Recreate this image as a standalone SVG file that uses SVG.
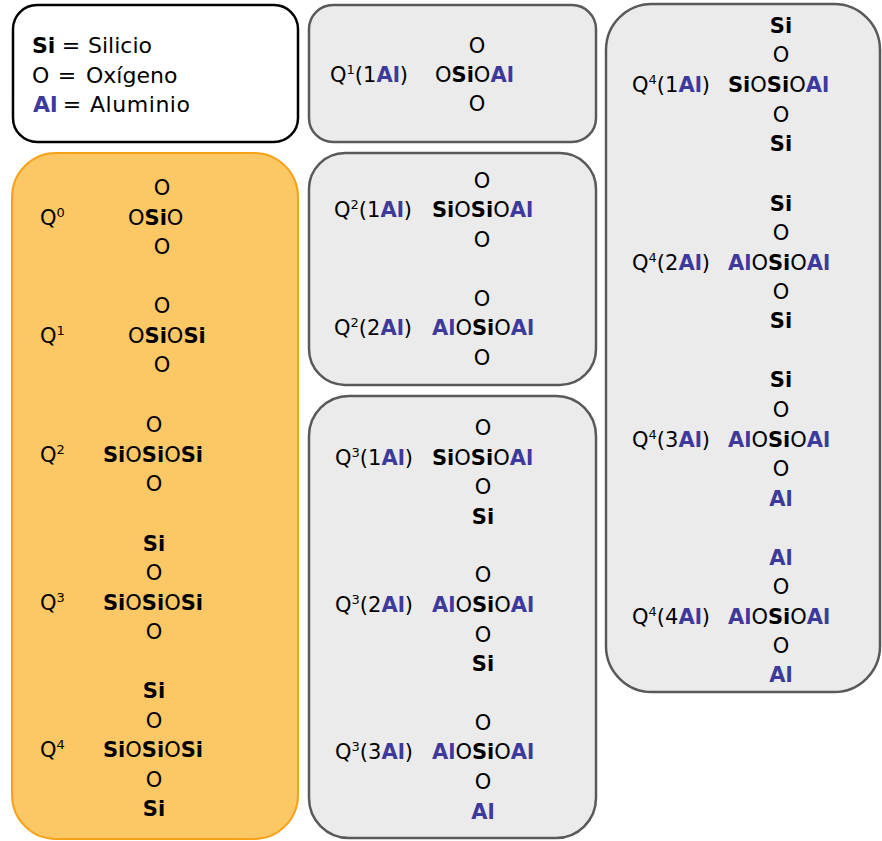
<svg xmlns="http://www.w3.org/2000/svg" width="882" height="841" viewBox="0 0 882 841">
<style>
text{font-family:"DejaVu Sans","Liberation Sans",sans-serif;font-size:21px;fill:#000}
.c{text-anchor:middle}
.b{font-weight:bold}
.al{font-weight:bold;fill:#3D3A9C}
.sup{font-size:13px}
.lg{font-size:22px}
.gray{fill:#EBEBEB;stroke:#595959;stroke-width:2.5}
.orange{fill:#FCC865;stroke:#F8A21C;stroke-width:2}
.legend{fill:#FFFFFF;stroke:#000;stroke-width:2.5}
</style>
<rect width="882" height="841" fill="#FFFFFF"/>

<g id="legend">
<rect class="legend" x="13" y="5" width="285" height="137" rx="24"/>
<text class="lg" x="32" y="53"><tspan class="b">Si</tspan></text>
<text class="lg c" x="71" y="53">=</text>
<text class="lg" x="88" y="53">Silicio</text>
<text class="lg" x="32" y="83">O</text>
<text class="lg c" x="67" y="83">=</text>
<text class="lg" x="86" y="83">Oxígeno</text>
<text class="lg" x="33" y="112"><tspan class="al">Al</tspan></text>
<text class="lg c" x="72" y="112">=</text>
<text class="lg" x="90" y="112" textLength="100" lengthAdjust="spacing">Aluminio</text>
</g>

<g id="q-silicon">
<rect class="orange" x="12" y="153" width="286" height="686" rx="44"/>
<text x="40" y="225">Q<tspan class="sup" dy="-8">0</tspan></text>
<text class="c" x="162" y="195">O</text>
<text x="128" y="225">O<tspan class="b">Si</tspan>O</text>
<text class="c" x="162" y="254">O</text>

<text x="40" y="343">Q<tspan class="sup" dy="-8">1</tspan></text>
<text class="c" x="162" y="313">O</text>
<text x="128" y="343">O<tspan class="b">Si</tspan>O<tspan class="b">Si</tspan></text>
<text class="c" x="162" y="372">O</text>

<text x="40" y="462">Q<tspan class="sup" dy="-8">2</tspan></text>
<text class="c" x="154" y="432">O</text>
<text x="103" y="462"><tspan class="b">Si</tspan>O<tspan class="b">Si</tspan>O<tspan class="b">Si</tspan></text>
<text class="c" x="154" y="491">O</text>

<text x="40" y="610">Q<tspan class="sup" dy="-8">3</tspan></text>
<text class="c b" x="154" y="551">Si</text>
<text class="c" x="154" y="580">O</text>
<text x="103" y="610"><tspan class="b">Si</tspan>O<tspan class="b">Si</tspan>O<tspan class="b">Si</tspan></text>
<text class="c" x="154" y="639">O</text>

<text x="40" y="757">Q<tspan class="sup" dy="-8">4</tspan></text>
<text class="c b" x="154" y="698">Si</text>
<text class="c" x="154" y="728">O</text>
<text x="103" y="757"><tspan class="b">Si</tspan>O<tspan class="b">Si</tspan>O<tspan class="b">Si</tspan></text>
<text class="c" x="154" y="787">O</text>
<text class="c b" x="154" y="816">Si</text>
</g>

<g id="q1-al">
<rect class="gray" x="309" y="5" width="287" height="137" rx="24"/>
<text x="330" y="82">Q<tspan class="sup" dy="-8">1</tspan><tspan dy="8">(1</tspan><tspan class="al">Al</tspan>)</text>
<text class="c" x="477" y="53">O</text>
<text x="435" y="82">O<tspan class="b">Si</tspan>O<tspan class="al">Al</tspan></text>
<text class="c" x="477" y="111">O</text>
</g>

<g id="q2-al">
<rect class="gray" x="309" y="153" width="287" height="232" rx="36"/>
<text x="334" y="217">Q<tspan class="sup" dy="-8">2</tspan><tspan dy="8">(1</tspan><tspan class="al">Al</tspan>)</text>
<text class="c" x="482" y="188">O</text>
<text x="432" y="217"><tspan class="b">Si</tspan>O<tspan class="b">Si</tspan>O<tspan class="al">Al</tspan></text>
<text class="c" x="482" y="247">O</text>

<text x="334" y="335">Q<tspan class="sup" dy="-8">2</tspan><tspan dy="8">(2</tspan><tspan class="al">Al</tspan>)</text>
<text class="c" x="482" y="306">O</text>
<text x="432" y="335"><tspan class="al">Al</tspan>O<tspan class="b">Si</tspan>O<tspan class="al">Al</tspan></text>
<text class="c" x="482" y="365">O</text>
</g>

<g id="q3-al">
<rect class="gray" x="309" y="396" width="287" height="442" rx="40"/>
<text x="335" y="465">Q<tspan class="sup" dy="-8">3</tspan><tspan dy="8">(1</tspan><tspan class="al">Al</tspan>)</text>
<text class="c" x="483" y="435">O</text>
<text x="432" y="465"><tspan class="b">Si</tspan>O<tspan class="b">Si</tspan>O<tspan class="al">Al</tspan></text>
<text class="c" x="483" y="494">O</text>
<text class="c b" x="483" y="524">Si</text>

<text x="335" y="612">Q<tspan class="sup" dy="-8">3</tspan><tspan dy="8">(2</tspan><tspan class="al">Al</tspan>)</text>
<text class="c" x="483" y="582">O</text>
<text x="432" y="612"><tspan class="al">Al</tspan>O<tspan class="b">Si</tspan>O<tspan class="al">Al</tspan></text>
<text class="c" x="483" y="642">O</text>
<text class="c b" x="483" y="671">Si</text>

<text x="335" y="759">Q<tspan class="sup" dy="-8">3</tspan><tspan dy="8">(3</tspan><tspan class="al">Al</tspan>)</text>
<text class="c" x="483" y="730">O</text>
<text x="432" y="759"><tspan class="al">Al</tspan>O<tspan class="b">Si</tspan>O<tspan class="al">Al</tspan></text>
<text class="c" x="483" y="789">O</text>
<text class="c al" x="483" y="819">Al</text>
</g>

<g id="q4-al">
<rect class="gray" x="606" y="4" width="274" height="688" rx="46"/>
<text x="632" y="92">Q<tspan class="sup" dy="-8">4</tspan><tspan dy="8">(1</tspan><tspan class="al">Al</tspan>)</text>
<text class="c b" x="781" y="33">Si</text>
<text class="c" x="781" y="62">O</text>
<text x="728" y="92"><tspan class="b">Si</tspan>O<tspan class="b">Si</tspan>O<tspan class="al">Al</tspan></text>
<text class="c" x="781" y="122">O</text>
<text class="c b" x="781" y="151">Si</text>

<text x="632" y="270">Q<tspan class="sup" dy="-8">4</tspan><tspan dy="8">(2</tspan><tspan class="al">Al</tspan>)</text>
<text class="c b" x="781" y="211">Si</text>
<text class="c" x="781" y="240">O</text>
<text x="728" y="270"><tspan class="al">Al</tspan>O<tspan class="b">Si</tspan>O<tspan class="al">Al</tspan></text>
<text class="c" x="781" y="299">O</text>
<text class="c b" x="781" y="328">Si</text>

<text x="632" y="447">Q<tspan class="sup" dy="-8">4</tspan><tspan dy="8">(3</tspan><tspan class="al">Al</tspan>)</text>
<text class="c b" x="781" y="387">Si</text>
<text class="c" x="781" y="417">O</text>
<text x="728" y="447"><tspan class="al">Al</tspan>O<tspan class="b">Si</tspan>O<tspan class="al">Al</tspan></text>
<text class="c" x="781" y="476">O</text>
<text class="c al" x="781" y="506">Al</text>

<text x="632" y="624">Q<tspan class="sup" dy="-8">4</tspan><tspan dy="8">(4</tspan><tspan class="al">Al</tspan>)</text>
<text class="c al" x="781" y="565">Al</text>
<text class="c" x="781" y="594">O</text>
<text x="728" y="624"><tspan class="al">Al</tspan>O<tspan class="b">Si</tspan>O<tspan class="al">Al</tspan></text>
<text class="c" x="781" y="653">O</text>
<text class="c al" x="781" y="682">Al</text>
</g>
</svg>
